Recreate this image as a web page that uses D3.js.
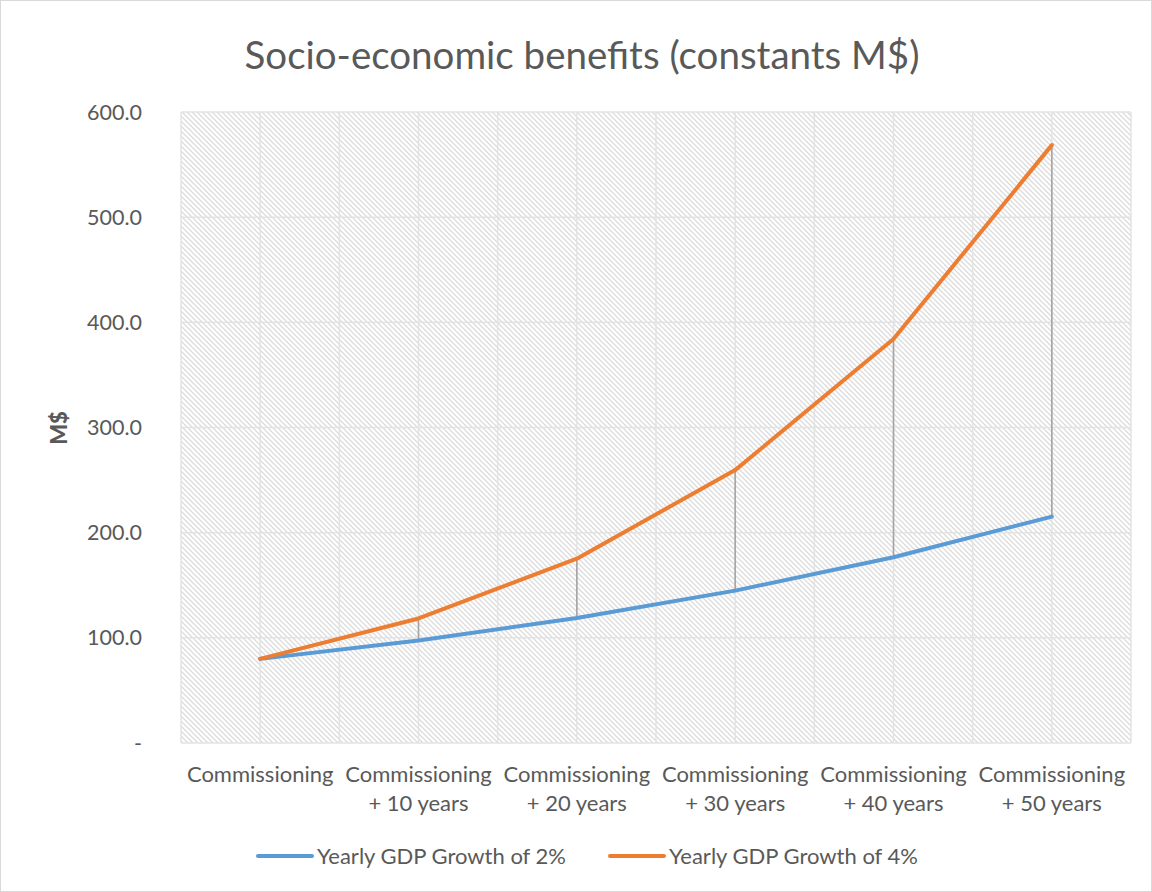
<!DOCTYPE html>
<html>
<head>
  <meta charset="utf-8">
  <title>Socio-economic benefits</title>
  <script src="https://d3js.org/d3.v7.min.js"></script>
  <style>
    body { margin: 0; background: #fff; }
    text { font-family: Lato, "Open Sans", sans-serif; fill: #595959; }
  </style>
</head>
<body>
<div id="chart"></div>
<script>
  // data
  var categories = ["Commissioning", "Commissioning + 10 years", "Commissioning + 20 years",
                    "Commissioning + 30 years", "Commissioning + 40 years", "Commissioning + 50 years"];
  var growth2 = [80.0, 97.5, 118.9, 144.9, 176.6, 215.3];
  var growth4 = [80.0, 118.4, 175.3, 259.5, 384.1, 568.5];
  var seriesNames = ["Yearly GDP Growth of 2%", "Yearly GDP Growth of 4%"];
  var yTicks = [0, 100, 200, 300, 400, 500, 600];

  var width = 1152, height = 892;
  var m = { left: 181, right: 1131, top: 112, bottom: 743 };

  var svg = d3.select("#chart").append("svg")
    .attr("width", width)
    .attr("height", height);

  svg.append("rect")
    .attr("x", 0.5).attr("y", 0.5)
    .attr("width", width - 1).attr("height", height - 1)
    .attr("fill", "#fff").attr("stroke", "#d9d9d9");

  // hatch pattern for the plot area
  var pat = svg.append("defs").append("pattern")
    .attr("id", "hatch")
    .attr("patternUnits", "userSpaceOnUse")
    .attr("width", 5).attr("height", 5);
  pat.append("path")
    .attr("d", "M-1,-1 L6,6 M-1,4 L1,6 M4,-1 L6,1")
    .attr("stroke", "#dcdcdc")
    .attr("stroke-width", 1.3);

  var x = d3.scaleBand().domain(categories).range([m.left, m.right]);
  var bw = x.bandwidth();
  var cx = function (c) { return x(c) + bw / 2; };
  var y = d3.scaleLinear().domain([0, 600]).range([m.bottom, m.top]);

  svg.append("rect")
    .attr("x", m.left).attr("y", m.top)
    .attr("width", m.right - m.left).attr("height", m.bottom - m.top)
    .attr("fill", "url(#hatch)");

  // gridlines
  var grid = svg.append("g").attr("stroke", "#e3e3e3").attr("stroke-width", 1.5);
  grid.selectAll(".hg").data(yTicks).enter().append("line")
    .attr("x1", m.left).attr("x2", m.right)
    .attr("y1", function (d) { return y(d); }).attr("y2", function (d) { return y(d); });
  var vlines = [];
  categories.forEach(function (c) { vlines.push(x(c)); vlines.push(cx(c)); });
  vlines.push(m.right);
  grid.selectAll(".vg").data(vlines).enter().append("line")
    .attr("x1", function (d) { return d; }).attr("x2", function (d) { return d; })
    .attr("y1", m.top).attr("y2", m.bottom);

  // y axis labels
  svg.append("g").selectAll("text").data(yTicks).enter().append("text")
    .attr("x", 142).attr("y", function (d) { return y(d); })
    .attr("dy", "0.35em")
    .attr("text-anchor", "end")
    .style("font-size", "21.5px")
    .text(function (d) { return d === 0 ? "-" : d.toFixed(1); });

  svg.append("text")
    .attr("transform", "translate(67,428) rotate(-90)")
    .attr("text-anchor", "middle")
    .style("font-size", "22px")
    .style("font-weight", "900")
    .text("M$");

  // category labels
  var cl = svg.append("g").selectAll("text").data(categories).enter().append("text")
    .attr("text-anchor", "middle")
    .style("font-size", "22px");
  cl.each(function (c) {
    var parts = c.split(" + ");
    var t = d3.select(this);
    t.append("tspan").attr("x", cx(c)).attr("y", 782).text(parts[0]);
    if (parts[1]) t.append("tspan").attr("x", cx(c)).attr("y", 811).text("+ " + parts[1]);
  });

  // high-low lines
  svg.append("g").selectAll("line").data(categories).enter().append("line")
    .attr("x1", cx).attr("x2", cx)
    .attr("y1", function (c, i) { return y(growth4[i]); })
    .attr("y2", function (c, i) { return y(growth2[i]); })
    .attr("stroke", "#a5a5a5")
    .attr("stroke-width", 1.6);

  var line = d3.line()
    .x(function (d, i) { return cx(categories[i]); })
    .y(function (d) { return y(d); });

  var colors = ["#5b9bd5", "#ed7d31"];
  [growth2, growth4].forEach(function (s, k) {
    svg.append("path")
      .datum(s)
      .attr("d", line)
      .attr("fill", "none")
      .attr("stroke", colors[k])
      .attr("stroke-width", 4)
      .attr("stroke-linejoin", "round")
      .attr("stroke-linecap", "round");
  });

  // title
  svg.append("text")
    .attr("x", 582).attr("y", 69)
    .attr("text-anchor", "middle")
    .style("font-size", "38.5px")
    .text("Socio-economic benefits (constants M$)");

  // legend
  var legX = [258, 610];
  var leg = svg.append("g").selectAll("g").data(seriesNames).enter().append("g");
  leg.append("line")
    .attr("x1", function (d, i) { return legX[i]; })
    .attr("x2", function (d, i) { return legX[i] + 54; })
    .attr("y1", 856).attr("y2", 856)
    .attr("stroke", function (d, i) { return colors[i]; })
    .attr("stroke-width", 4)
    .attr("stroke-linecap", "round");
  leg.append("text")
    .attr("x", function (d, i) { return legX[i] + 59; })
    .attr("y", 856).attr("dy", "0.35em")
    .style("font-size", "22px")
    .text(function (d) { return d; });
</script>
</body>
</html>
